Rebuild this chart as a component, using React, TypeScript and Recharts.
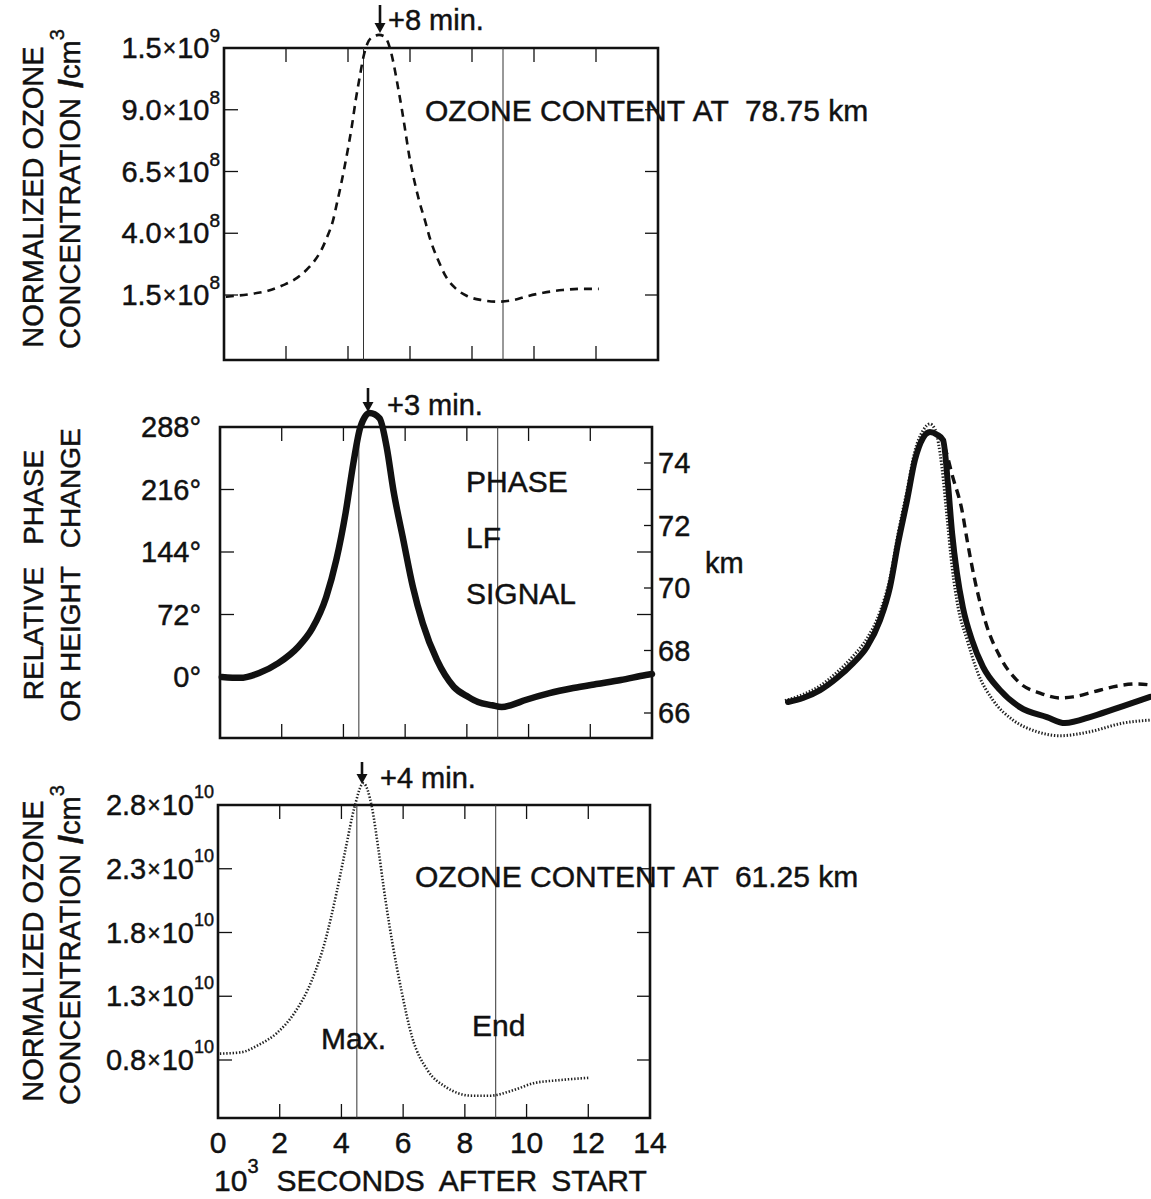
import React from 'react';
import { LineChart, Line, XAxis, YAxis, ReferenceLine, ReferenceArea } from 'recharts';

const FONT = '"Liberation Sans", Arial, Helvetica, sans-serif';
const INK = '#111';

// ---------------- data ----------------
// upper panel: ozone at 78.75 km (axis units of 10^8 /cm3, as laid out on the printed scale)
const topTime = [0.06, 0.8, 1.42, 1.91, 2.28, 2.65, 2.9, 3.14, 3.33, 3.52, 3.64, 3.76, 3.89, 4.01, 4.13, 4.25, 4.38, 4.5, 4.63, 4.81, 5.0, 5.18, 5.37, 5.49, 5.61, 5.74, 5.86, 5.98, 6.11, 6.29, 6.48, 6.66, 6.91, 7.16, 7.47, 7.84, 8.33, 8.82, 9.32, 9.81, 10.3, 10.92, 11.54, 12.09];
const topOzone = [1.43, 1.53, 1.67, 1.9, 2.13, 2.5, 2.85, 3.32, 3.86, 4.53, 5.2, 5.88, 6.69, 7.5, 8.38, 9.4, 10.34, 11.15, 11.69, 11.96, 12.03, 11.96, 11.42, 10.75, 9.93, 9.0, 8.05, 7.1, 6.29, 5.34, 4.53, 3.72, 2.91, 2.24, 1.77, 1.46, 1.29, 1.23, 1.29, 1.46, 1.59, 1.7, 1.75, 1.75];
const topTickValues = [1.5, 4.0, 6.5, 9.0, 11.5];
const topTickMantissa = ['1.5', '4.0', '6.5', '9.0', '1.5'];
const topTickExponent = ['8', '8', '8', '8', '9'];

// middle panel: relative phase of LF signal (degrees)
const phaseTime = [0.06, 0.65, 1.27, 1.89, 2.53, 2.99, 3.44, 3.77, 4.07, 4.32, 4.55, 4.85, 5.17, 5.4, 5.62, 5.94, 6.25, 6.57, 7.03, 7.58, 8.05, 8.36, 8.82, 9.13, 9.44, 9.9, 10.68, 11.45, 12.2, 12.99, 13.8, 14.0];
const phaseDeg = [0, -1, 4.6, 16, 34.6, 56, 92, 135, 189, 246, 288, 304, 298, 265, 215, 158, 104, 62, 19.6, -11.5, -23, -28.8, -32.6, -34.6, -32.3, -26.5, -18.5, -12.7, -8.1, -3.5, 2.3, 3.5];
const phaseTickValues = [0, 72, 144, 216, 288];
const phaseTickLabels = ['0°', '72°', '144°', '216°', '288°'];
const kmTickValues = [66, 68, 70, 72, 74];
const kmTickLabels = ['66', '68', '70', '72', '74'];

// lower panel: ozone at 61.25 km (10^10 /cm3)
const lowTime = [0.06, 0.74, 1.33, 1.9, 2.48, 3.05, 3.48, 3.84, 4.13, 4.42, 4.71, 4.99, 5.2, 5.43, 5.65, 5.94, 6.29, 6.79, 7.37, 8.24, 8.82, 9.53, 10.26, 10.97, 12.0];
const lowOzone = [0.85, 0.86, 0.92, 1.01, 1.17, 1.43, 1.74, 2.11, 2.45, 2.78, 2.97, 2.78, 2.45, 2.05, 1.72, 1.35, 0.98, 0.72, 0.59, 0.52, 0.52, 0.56, 0.62, 0.64, 0.66];
const lowTickValues = [0.8, 1.3, 1.8, 2.3, 2.8];
const lowTickMantissa = ['0.8', '1.3', '1.8', '2.3', '2.8'];
const lowTickExponent = ['10', '10', '10', '10', '10'];

// time axis (10^3 s after start)
const timeTickValues = [0, 2, 4, 6, 8, 10, 12, 14];
const timeTickLabels = ['0', '2', '4', '6', '8', '10', '12', '14'];
const innerTimeTicks = [2, 4, 6, 8, 10, 12];
const markerTimes = [4.5, 9.0]; // Max., End

// right-hand comparison of the three normalized curves (percent of peak)
const cmpSolidTime = [0, 0.5, 1.07, 1.63, 2.17, 2.63, 3.07, 3.4, 3.67, 3.97, 4.23, 4.5, 4.73, 4.97, 5.17, 5.33, 5.47, 5.63, 5.83, 6.13, 6.5, 7.07, 7.73, 8.63, 9.23, 10.17, 11.17, 12.07];
const cmpSolidValue = [0, 1.5, 4.4, 8.9, 14.4, 20.4, 30.4, 42.6, 58.9, 74.8, 89.6, 97.8, 100, 99, 97, 81, 62.6, 47.8, 35, 23, 13, 4.4, -1.9, -5.6, -7.8, -5.2, -1.5, 1.9];
const cmpDashedTime = [0, 0.5, 1.07, 1.63, 2.17, 2.63, 3.07, 3.4, 3.67, 3.97, 4.23, 4.5, 4.75, 4.95, 5.17, 5.5, 5.8, 5.97, 6.23, 6.63, 7.07, 7.73, 8.4, 9.07, 9.5, 10.17, 10.83, 11.63, 12.07];
const cmpDashedValue = [0, 1.5, 4.4, 8.9, 14.4, 20.4, 30.4, 42.6, 58.9, 74.8, 89.6, 97.5, 99.5, 99, 96, 83, 71, 60, 45, 28, 16.7, 7, 3.3, 1.5, 1.9, 3.7, 5.6, 6.7, 6.3];
const cmpDottedTime = [-0.1, 0.5, 1.07, 1.63, 2.17, 2.63, 3.07, 3.4, 3.67, 3.97, 4.23, 4.5, 4.73, 4.9, 5.13, 5.3, 5.47, 5.67, 5.97, 6.33, 6.83, 7.5, 8.3, 9.07, 10.07, 11.17, 12.07];
const cmpDottedValue = [0.5, 2.8, 6, 11, 17, 23.5, 33.5, 46, 62.5, 78.5, 93, 100.5, 103, 101, 87, 68.5, 50, 35, 23, 10.7, 0.7, -6.7, -11, -12.5, -11, -7.8, -6.7];

const rows = (t: number[], v: number[]) => t.map((x, i) => ({ t: x, v: v[i] }));

// ---------------- geometry helpers ----------------
const lin = (p1: number, v1: number, p2: number, v2: number) => (p: number) => v1 + ((p - p1) * (v2 - v1)) / (p2 - p1);

type Geo = {
  top: number; height: number; width: number;
  left: number; right: number;
  plotTop: number; boxTop: number; bottom: number;
  yA: [number, number]; yB: [number, number];
};

const scaleOf = (g: Geo) => {
  const f = lin(g.yA[0], g.yA[1], g.yB[0], g.yB[1]);
  return { yMax: f(g.plotTop), yMin: f(g.bottom), boxTopVal: f(g.boxTop), perPx: Math.abs((g.yA[1] - g.yB[1]) / (g.yA[0] - g.yB[0])) };
};

const marginOf = (g: Geo) => ({ top: g.plotTop - g.top, bottom: g.top + g.height - g.bottom, left: g.left, right: g.width - g.right });

const topGeo: Geo = { top: 0, height: 380, width: 700, left: 224, right: 658, plotTop: 20, boxTop: 48, bottom: 360, yA: [48, 11.5], yB: [295, 1.5] };
const midGeo: Geo = { top: 380, height: 380, width: 770, left: 220, right: 652, plotTop: 395, boxTop: 427, bottom: 738, yA: [427, 288], yB: [677, 0] };
const lowGeo: Geo = { top: 760, height: 439, width: 700, left: 218, right: 650, plotTop: 765, boxTop: 805, bottom: 1118, yA: [805, 2.8], yB: [1060, 0.8] };

const frame = (g: Geo, keyp: string) => {
  const s = scaleOf(g);
  const tl = 14 * s.perPx;
  const els: React.ReactNode[] = [];
  els.push(
    <ReferenceArea key={keyp + 'box'} xAxisId="x" yAxisId="y" x1={0} x2={14} y1={s.yMin} y2={s.boxTopVal}
      fill="none" stroke={INK} strokeWidth={2.6} ifOverflow="visible" />
  );
  innerTimeTicks.forEach((t) =>
    els.push(
      <ReferenceLine key={keyp + 'tt' + t} xAxisId="x" yAxisId="y" ifOverflow="visible"
        segment={[{ x: t, y: s.boxTopVal }, { x: t, y: s.boxTopVal - tl }]} stroke={INK} strokeWidth={1.3} />
    )
  );
  markerTimes.forEach((t) =>
    els.push(
      <ReferenceLine key={keyp + 'mk' + t} xAxisId="x" yAxisId="y" ifOverflow="visible"
        segment={[{ x: t, y: s.yMin }, { x: t, y: s.boxTopVal }]} stroke="#333" strokeWidth={1} />
    )
  );
  return els;
};

const findIdx = (vals: number[], v: any) => vals.findIndex((x) => Math.abs(x - Number(v)) < 1e-6);

const TXT = { fontFamily: FONT, fill: INK, stroke: INK, strokeWidth: 0.45 };

// custom tick components (cloned by recharts with x, y, payload)
function SciTick(props: any) {
  const { y, payload, xRight, vals, mant, exps, supSize } = props;
  const value = payload ? payload.value : props.value;
  const i = findIdx(vals, value);
  const m = i >= 0 ? mant[i] : String(value);
  const e = i >= 0 ? exps[i] : '';
  return (
    <text x={xRight} y={y} textAnchor="end" dominantBaseline="central" fontSize={29} {...TXT}>
      {m}
      <tspan fontSize={23} dx={1}>×</tspan>
      <tspan dx={1}>10</tspan>
      <tspan dy={-13} fontSize={supSize}>{e}</tspan>
    </text>
  );
}

function PlainTick(props: any) {
  const { y, payload, xPos, anchor, vals, labels } = props;
  const value = payload ? payload.value : props.value;
  const i = findIdx(vals, value);
  return (
    <text x={xPos} y={y} textAnchor={anchor} dominantBaseline="central" fontSize={29} {...TXT}>
      {i >= 0 ? labels[i] : String(value)}
    </text>
  );
}

function TimeTick(props: any) {
  const { x, payload, yPos } = props;
  const value = payload ? payload.value : props.value;
  const i = findIdx(timeTickValues, value);
  return (
    <text x={x} y={yPos} textAnchor="middle" dominantBaseline="central" fontSize={30} {...TXT}>
      {i >= 0 ? timeTickLabels[i] : String(value)}
    </text>
  );
}

function NoLabel() {
  return <g />;
}

const tickLine = { stroke: INK, strokeWidth: 1.3 };
const AXW = 60; // left axis box size (mirrored axes take no layout space)
const AXR = 1; // right mirrored axes: thin so several stacked ones stay on the frame
const AXH = 30;

// ---------------- panels ----------------
function TopPanel() {
  const g = topGeo;
  const s = scaleOf(g);
  return (
    <div style={{ position: 'absolute', left: 0, top: g.top }}>
      <LineChart width={g.width} height={g.height} margin={marginOf(g)}>
        <XAxis xAxisId="x" dataKey="t" type="number" domain={[0, 14]} ticks={innerTimeTicks} interval={0}
          orientation="bottom" mirror height={AXH} tickSize={14} axisLine={false} tickLine={tickLine} tick={<NoLabel />} />
        <YAxis yAxisId="y" type="number" domain={[s.yMin, s.yMax]} ticks={topTickValues} interval={0}
          orientation="left" mirror width={AXW} tickSize={14} axisLine={false} tickLine={tickLine}
          tick={<SciTick xRight={220} vals={topTickValues} mant={topTickMantissa} exps={topTickExponent} supSize={19} />} />
        <YAxis yAxisId="r" type="number" domain={[s.yMin, s.yMax]} allowDataOverflow ticks={topTickValues.slice(0, 4)} interval={0}
          orientation="right" mirror width={AXR} tickSize={13} axisLine={false} tickLine={tickLine} tick={<NoLabel />} />
        {frame(g, 'top')}
        <Line xAxisId="x" yAxisId="y" data={rows(topTime, topOzone)} dataKey="v" type="monotone" stroke={INK}
          strokeWidth={2.6} strokeDasharray="8 6" dot={false} isAnimationActive={false} />
      </LineChart>
    </div>
  );
}

function PhasePanel() {
  const g = midGeo;
  const s = scaleOf(g);
  const km = lin(463, 74, 713, 66);
  return (
    <div style={{ position: 'absolute', left: 0, top: g.top }}>
      <LineChart width={g.width} height={g.height} margin={marginOf(g)}>
        <XAxis xAxisId="x" dataKey="t" type="number" domain={[0, 14]} ticks={innerTimeTicks} interval={0}
          orientation="bottom" mirror height={AXH} tickSize={14} axisLine={false} tickLine={tickLine} tick={<NoLabel />} />
        <YAxis yAxisId="y" type="number" domain={[s.yMin, s.yMax]} ticks={phaseTickValues} interval={0}
          orientation="left" mirror width={AXW} tickSize={14} axisLine={false} tickLine={tickLine}
          tick={<PlainTick xPos={201} anchor="end" vals={phaseTickValues} labels={phaseTickLabels} />} />
        <YAxis yAxisId="r" type="number" domain={[s.yMin, s.yMax]} allowDataOverflow ticks={[72, 144, 216]} interval={0}
          orientation="right" mirror width={AXR} tickSize={14} axisLine={false} tickLine={tickLine} tick={<NoLabel />} />
        <YAxis yAxisId="km" type="number" domain={[km(g.bottom), km(g.plotTop)]} allowDataOverflow ticks={kmTickValues} interval={0}
          orientation="right" mirror width={AXR} tickSize={8} axisLine={false} tickLine={tickLine}
          tick={<PlainTick xPos={g.right + 6} anchor="start" vals={kmTickValues} labels={kmTickLabels} />} />
        {frame(g, 'mid')}
        <Line xAxisId="x" yAxisId="y" data={rows(phaseTime, phaseDeg)} dataKey="v" type="monotone" stroke={INK}
          strokeWidth={6.5} strokeLinecap="round" strokeLinejoin="round" dot={false} isAnimationActive={false} />
      </LineChart>
    </div>
  );
}

function LowPanel() {
  const g = lowGeo;
  const s = scaleOf(g);
  return (
    <div style={{ position: 'absolute', left: 0, top: g.top }}>
      <LineChart width={g.width} height={g.height} margin={marginOf(g)}>
        <XAxis xAxisId="x" dataKey="t" type="number" domain={[0, 14]} ticks={timeTickValues} interval={0}
          orientation="bottom" mirror height={AXH} tickSize={14} axisLine={false} tickLine={tickLine}
          tick={<TimeTick yPos={1142 - g.top} />} />
        <YAxis yAxisId="y" type="number" domain={[s.yMin, s.yMax]} ticks={lowTickValues} interval={0}
          orientation="left" mirror width={AXW} tickSize={14} axisLine={false} tickLine={tickLine}
          tick={<SciTick xRight={214} vals={lowTickValues} mant={lowTickMantissa} exps={lowTickExponent} supSize={18} />} />
        <YAxis yAxisId="r" type="number" domain={[s.yMin, s.yMax]} allowDataOverflow ticks={lowTickValues.slice(0, 4)} interval={0}
          orientation="right" mirror width={AXR} tickSize={13} axisLine={false} tickLine={tickLine} tick={<NoLabel />} />
        {frame(g, 'low')}
        <Line xAxisId="x" yAxisId="y" data={rows(lowTime, lowOzone)} dataKey="v" type="monotone" stroke="#222"
          strokeWidth={2.6} strokeDasharray="1.4 1.8" dot={false} isAnimationActive={false} />
      </LineChart>
    </div>
  );
}

function ComparePanel() {
  const left = 770, top = 400, width = 381, height = 360;
  const plotLeft = 782, plotRight = 1151, plotTop = 410, plotBottom = 745;
  const tx = lin(788, 0, 818, 1);
  const vy = lin(702, 0, 432, 100);
  return (
    <div style={{ position: 'absolute', left, top }}>
      <LineChart width={width} height={height}
        margin={{ top: plotTop - top, bottom: top + height - plotBottom, left: plotLeft - left, right: left + width - plotRight }}>
        <XAxis dataKey="t" type="number" domain={[tx(plotLeft), tx(plotRight)]} hide />
        <YAxis type="number" domain={[vy(plotBottom), vy(plotTop)]} hide />
        <Line data={rows(cmpDottedTime, cmpDottedValue)} dataKey="v" type="monotone" stroke="#222" strokeWidth={3}
          strokeDasharray="1.4 1.8" dot={false} isAnimationActive={false} />
        <Line data={rows(cmpDashedTime, cmpDashedValue)} dataKey="v" type="monotone" stroke={INK} strokeWidth={3.4}
          strokeDasharray="9 6" dot={false} isAnimationActive={false} />
        <Line data={rows(cmpSolidTime, cmpSolidValue)} dataKey="v" type="monotone" stroke={INK} strokeWidth={6}
          strokeLinecap="round" dot={false} isAnimationActive={false} />
      </LineChart>
    </div>
  );
}

// ---------------- free text ----------------
const T = (props: any) => <text {...TXT} dominantBaseline="central" {...props} />;

const Arrow = ({ x, y1, y2 }: { x: number; y1: number; y2: number }) => (
  <g>
    <line x1={x} y1={y1} x2={x} y2={y2 - 8} stroke={INK} strokeWidth={2.6} />
    <polygon points={`${x - 5.5},${y2 - 10} ${x + 5.5},${y2 - 10} ${x},${y2}`} fill={INK} />
  </g>
);

const VTitle = ({ x, y, size, children }: any) => (
  <T x={x} y={y} fontSize={size} textAnchor="middle" transform={`rotate(-90 ${x} ${y})`}>{children}</T>
);

const ConcTitle = ({ x, y }: { x: number; y: number }) => (
  <VTitle x={x} y={y} size={29}>
    CONCENTRATION
    <tspan dx={10} fontWeight={900} fontSize={33}>/</tspan>
    <tspan>cm</tspan>
    <tspan dy={-13} fontSize={20}>3</tspan>
  </VTitle>
);

function Annotations() {
  return (
    <svg width={1151} height={1199} style={{ position: 'absolute', left: 0, top: 0, pointerEvents: 'none' }}>
      {/* top panel */}
      <VTitle x={33} y={197} size={29}>NORMALIZED OZONE</VTitle>
      <ConcTitle x={70} y={189} />
      <Arrow x={380} y1={5} y2={33} />
      <T x={388} y={20} fontSize={29}>+8 min.</T>
      <T x={425} y={110} fontSize={30}>OZONE CONTENT<tspan dx={10}>AT</tspan><tspan dx={16}>78.75 km</tspan></T>

      {/* middle panel */}
      <VTitle x={33} y={575} size={28}>RELATIVE<tspan dx={22}>PHASE</tspan></VTitle>
      <VTitle x={70} y={575} size={28}>OR HEIGHT<tspan dx={18}>CHANGE</tspan></VTitle>
      <Arrow x={368} y1={388} y2={412} />
      <T x={387} y={405} fontSize={29}>+3 min.</T>
      <T x={466} y={481} fontSize={30}>PHASE</T>
      <T x={466} y={537} fontSize={30}>LF</T>
      <T x={466} y={593} fontSize={30}>SIGNAL</T>
      <T x={705} y={563} fontSize={29}>km</T>

      {/* lower panel */}
      <VTitle x={33} y={951} size={29}>NORMALIZED OZONE</VTitle>
      <ConcTitle x={70} y={945} />
      <Arrow x={362} y1={762} y2={784} />
      <T x={380} y={778} fontSize={29}>+4 min.</T>
      <T x={415} y={876} fontSize={30}>OZONE CONTENT<tspan dx={10}>AT</tspan><tspan dx={16}>61.25 km</tspan></T>
      <T x={321} y={1038} fontSize={30}>Max.</T>
      <T x={472} y={1025} fontSize={30}>End</T>
      <T x={214} y={1180} fontSize={30}>
        10<tspan dy={-14} fontSize={20}>3</tspan>
        <tspan dy={14} dx={18}>SECONDS</tspan>
        <tspan dx={14}>AFTER</tspan>
        <tspan dx={14}>START</tspan>
      </T>
    </svg>
  );
}

export default function App() {
  return (
    <div style={{ position: 'absolute', left: 0, top: 0, width: 1151, height: 1199, background: '#fff', overflow: 'hidden' }}>
      <TopPanel />
      <PhasePanel />
      <LowPanel />
      <ComparePanel />
      <Annotations />
    </div>
  );
}
